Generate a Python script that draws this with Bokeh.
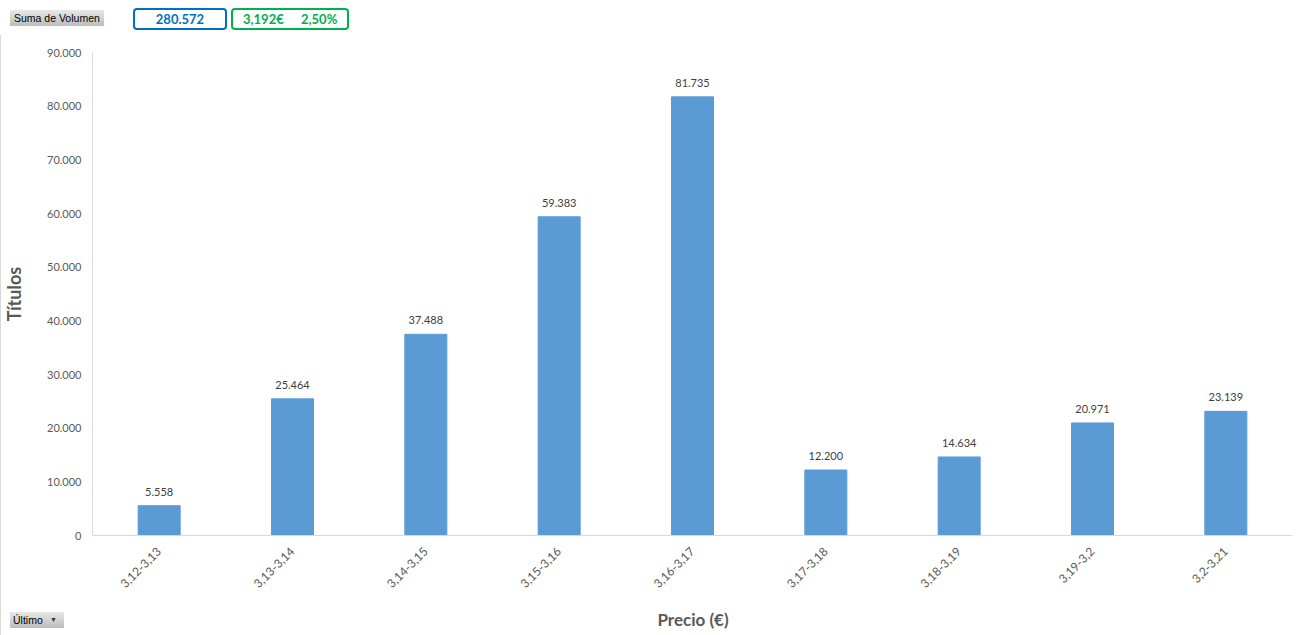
from bokeh.plotting import figure
from bokeh.models import ColumnDataSource, Range1d, FactorRange, FixedTicker, LabelSet, Div
from bokeh.layouts import column
from bokeh.embed import file_html
from bokeh.resources import INLINE
from bokeh.core.properties import value
import math

categories = ["3,12-3,13", "3,13-3,14", "3,14-3,15", "3,15-3,16", "3,16-3,17",
              "3,17-3,18", "3,18-3,19", "3,19-3,2", "3,2-3,21"]
volumes = [5558, 25464, 37488, 59383, 81735, 12200, 14634, 20971, 23139]
y_ticks = [0, 10000, 20000, 30000, 40000, 50000, 60000, 70000, 80000, 90000]
y_tick_labels = ["0", "10.000", "20.000", "30.000", "40.000", "50.000",
                 "60.000", "70.000", "80.000", "90.000"]
field_button = "Suma de Volumen"
filter_button = "Último"
total_label = "280.572"
price_label = "3,192€"
change_label = "2,50%"
y_title = "Títulos"
x_title = "Precio (€)"

FONT = "Lato"
GREY = "#595959"
EDGE = "#d9d9d9"

labels = [f"{v:,}".replace(",", ".") for v in volumes]
src = ColumnDataSource(dict(cat=categories, vol=volumes, lab=labels))

# ---------- header ----------
btn = ("position:absolute;background:linear-gradient(#e8e8e8,#bcbcbc);"
       "font-family:'Liberation Sans',Arial,sans-serif;font-size:10.5px;color:#000;"
       "box-sizing:border-box;white-space:nowrap;")
header_html = f"""
<div style="position:relative;width:1298px;height:36px;overflow:visible;">
  <div style="position:absolute;left:0px;top:35px;width:1px;height:1px;background:{EDGE};"></div>
  <div style="{btn}left:10px;top:10px;width:94px;height:16px;line-height:16px;padding-left:4px;">{field_button}</div>
  <div style="position:absolute;left:133px;top:8px;width:94px;height:22px;box-sizing:border-box;
       border:2px solid #0070C0;border-radius:4px;color:#0070C0;font-family:{FONT};font-weight:bold;
       font-size:13px;line-height:18px;text-align:center;">{total_label}</div>
  <div style="position:absolute;left:231px;top:8px;width:118px;height:22px;box-sizing:border-box;
       border:2px solid #00B050;border-radius:4px;color:#00B050;font-family:{FONT};font-weight:bold;
       font-size:13px;line-height:18px;white-space:nowrap;">
       <span style="position:absolute;left:10px;">{price_label}</span>
       <span style="position:absolute;left:68px;">{change_label}</span></div>
</div>"""
header = Div(text=header_html, width=1298, height=36, margin=0)

# ---------- figure ----------
p = figure(width=1298, height=569, x_range=FactorRange(*categories, range_padding=0),
           y_range=Range1d(0, 90000), output_backend="svg", toolbar_location=None,
           min_border_left=92, min_border_right=6, min_border_top=16, min_border_bottom=70,
           margin=0, styles={"box-shadow": f"inset 1px 0 0 {EDGE}", "background": "white"})
p.outline_line_color = None
p.grid.grid_line_color = None
p.border_fill_color = None
p.background_fill_color = "white"

p.vbar(x="cat", top="vol", width=0.315, source=src, color="#5B9BD5")

ls = LabelSet(x="cat", y="vol", text="lab", source=src, text_align="center",
              text_baseline="bottom", y_offset=10, text_font_size="11px",
              text_font=value(FONT), text_color="#404040")
p.add_layout(ls)

ya = p.yaxis[0]
ya.ticker = FixedTicker(ticks=y_ticks)
ya.major_label_overrides = {t: l for t, l in zip(y_ticks, y_tick_labels)}
ya.major_tick_line_color = None
ya.major_tick_out = 0
ya.major_tick_in = 0
ya.minor_tick_line_color = None
ya.minor_tick_out = 0
ya.axis_line_color = EDGE
ya.major_label_text_font = FONT
ya.major_label_text_font_size = "11px"
ya.major_label_text_color = GREY
ya.major_label_standoff = 11
ya.axis_label = y_title
ya.axis_label_text_font = FONT
ya.axis_label_text_font_style = "bold"
ya.axis_label_text_font_size = "18px"
ya.axis_label_text_color = GREY
ya.axis_label_standoff = 19

xa = p.xaxis[0]
xa.major_tick_line_color = None
xa.major_tick_out = 0
xa.major_tick_in = 0
xa.minor_tick_line_color = None
xa.axis_line_color = EDGE
xa.major_label_orientation = math.pi / 4
xa.major_label_text_font = FONT
xa.major_label_text_font_size = "12px"
xa.major_label_text_color = GREY
xa.major_label_standoff = 14

# ---------- footer ----------
footer_html = f"""
<div style="position:relative;width:1298px;height:30px;overflow:visible;">
  <div style="position:absolute;left:0px;top:0px;width:1px;height:30px;background:{EDGE};"></div>
  <div style="{btn}left:10px;top:7px;width:54px;height:16px;line-height:16px;padding-left:3px;">{filter_button}
     <span style="position:absolute;left:40px;top:0px;font-size:7px;color:#333;">&#9660;</span></div>
  <div style="position:absolute;left:0px;top:3px;width:1386px;text-align:center;font-family:{FONT};
       font-weight:bold;font-size:17px;color:{GREY};">{x_title}</div>
</div>"""
footer = Div(text=footer_html, width=1298, height=30, margin=0)

layout = column(header, p, footer, spacing=0, margin=0)
open("out.html", "w").write(file_html(layout, INLINE))
